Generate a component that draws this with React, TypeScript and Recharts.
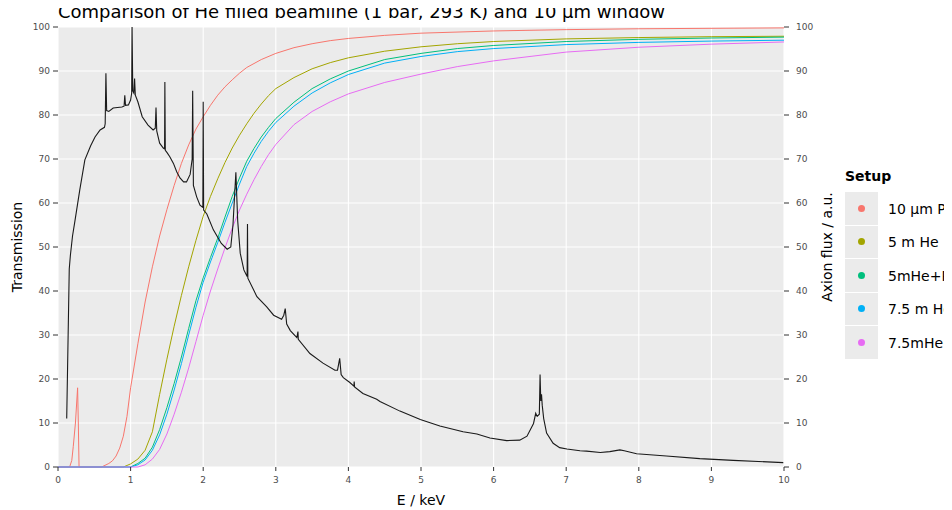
import React from "react";
import { LineChart, Line, XAxis, YAxis, CartesianGrid } from "recharts";

// energies (keV) and transmission (%)
const plE = [0, 0.16, 0.19, 0.21, 0.24, 0.27, 0.28, 0.29, 0.6, 0.7, 0.75, 0.8, 0.85, 0.9, 0.95, 1.0, 1.1, 1.2, 1.3, 1.4, 1.5, 1.6, 1.7, 1.8, 1.9, 2.0, 2.1, 2.2, 2.3, 2.4, 2.5, 2.6, 2.8, 3.0, 3.25, 3.5, 3.75, 4.0, 4.5, 5, 6, 7, 8, 10];
const plT = [0, 0, 1.5, 4.6, 10, 18, 10, 0, 0, 0.8, 1.4, 2.5, 4.3, 7, 11.5, 18, 28, 37.5, 45.5, 52.5, 58.5, 64, 69, 73.2, 76.8, 79.6, 82.2, 84.5, 86.4, 88, 89.5, 90.8, 92.6, 94, 95.3, 96.2, 96.9, 97.4, 98.1, 98.6, 99.1, 99.4, 99.6, 99.8];

const heE = [0, 0.9, 1.0, 1.1, 1.2, 1.3, 1.4, 1.5, 1.6, 1.7, 1.8, 1.9, 2.0, 2.1, 2.2, 2.3, 2.4, 2.5, 2.6, 2.7, 2.8, 2.9, 3.0, 3.25, 3.5, 3.75, 4.0, 4.5, 5, 5.5, 6, 7, 8, 9, 10];
const he5T = [0, 0, 0.7, 1.8, 3.8, 8, 16.5, 24.5, 32, 39, 45.5, 51.5, 57, 61.5, 65.5, 69.2, 72.5, 75.4, 78, 80.4, 82.5, 84.4, 86, 88.5, 90.5, 91.9, 93, 94.5, 95.5, 96.2, 96.7, 97.3, 97.6, 97.8, 97.9];
const he5plT = [0, 0, 0, 0.8, 2, 4.5, 8.5, 13.5, 19, 25, 31.5, 37.8, 43, 47.6, 52, 56.8, 61.5, 65.7, 69.5, 72.4, 75, 77.2, 79.2, 82.9, 86, 88.2, 90, 92.6, 94, 95.1, 95.8, 96.7, 97.2, 97.5, 97.7];
const he75T = [0, 0, 0, 0.5, 1.6, 3.8, 7.3, 12, 17.5, 23.5, 30, 36.3, 42, 46.6, 51, 55.6, 60, 64.3, 68.3, 71.3, 74, 76.3, 78.3, 82, 85, 87.3, 89.2, 91.8, 93.3, 94.4, 95.1, 96, 96.5, 96.8, 97.0];
const he75plT = [0, 0, 0, 0, 0.5, 1.8, 4, 7.5, 12, 17, 22.5, 28.5, 34.5, 40, 45, 49.8, 54.3, 58.4, 62, 65.3, 68.3, 71, 73.3, 77.8, 80.8, 83, 84.8, 87.4, 89.3, 91, 92.3, 94.3, 95.4, 96.1, 96.6];

// axion flux spectrum (a.u.)
const fluxE = [0.12, 0.155, 0.17, 0.2, 0.234, 0.3, 0.37, 0.45, 0.51, 0.58, 0.64, 0.65, 0.66, 0.67, 0.7, 0.76, 0.88, 0.91, 0.92, 0.93, 0.97, 1.0, 1.015, 1.02, 1.03, 1.045, 1.055, 1.065, 1.1, 1.16, 1.24, 1.31, 1.34, 1.35, 1.36, 1.4, 1.45, 1.468, 1.472, 1.478, 1.5, 1.54, 1.59, 1.635, 1.68, 1.73, 1.77, 1.82, 1.848, 1.855, 1.865, 1.91, 1.956, 1.995, 2.0, 2.006, 2.05, 2.14, 2.25, 2.33, 2.38, 2.41, 2.45, 2.475, 2.51, 2.56, 2.605, 2.61, 2.615, 2.74, 2.875, 2.97, 3.08, 3.11, 3.13, 3.15, 3.2, 3.29, 3.305, 3.31, 3.47, 3.65, 3.815, 3.85, 3.88, 3.9, 3.93, 4.02, 4.075, 4.08, 4.085, 4.2, 4.39, 4.435, 4.71, 4.99, 5.26, 5.58, 5.77, 5.95, 6.18, 6.36, 6.46, 6.55, 6.58, 6.6, 6.63, 6.64, 6.65, 6.66, 6.67, 6.69, 6.73, 6.82, 6.91, 7.01, 7.19, 7.28, 7.47, 7.6, 7.74, 7.8, 7.97, 8.38, 8.84, 9.3, 9.99];
const fluxV = [11, 45, 48, 52.5, 56, 63, 69.8, 73, 75, 76.6, 77.2, 78, 89.5, 81, 80.8, 81.6, 81.8, 82, 84.5, 82.2, 82.3, 83.4, 85, 100, 85.5, 85, 88.3, 84.5, 83, 79.6, 77.7, 76.6, 77, 81.7, 76.4, 73.6, 72.5, 72.3, 87.5, 72, 71.5, 70.5, 69, 67.1, 65.7, 64.8, 64.8, 66.5, 70, 85.5, 64, 61.4, 59.5, 59, 83, 58.4, 57.5, 53.9, 50.8, 49.5, 50, 55, 67, 56, 48.6, 44.8, 43.3, 55.2, 42.9, 38.7, 36.4, 34.5, 33.6, 34.5, 36, 32.5, 31, 29.4, 30.8, 29, 25.8, 23.6, 22, 22, 24.7, 21, 20.3, 19.2, 18.4, 19.4, 18.2, 16.7, 15.4, 14.9, 12.7, 10.8, 9.3, 8.0, 7.5, 6.6, 6.0, 6.1, 7.0, 9.9, 12.2, 11.5, 12, 21, 15, 16.5, 14, 11, 7.7, 5.4, 4.4, 4.1, 3.7, 3.6, 3.3, 3.5, 3.9, 3.7, 3.0, 2.5, 1.9, 1.5, 1.0];

const setups = ["10 µm PP", "5 m He", "5mHe+PP", "7.5 m He", "7.5mHe+PP"];
const colors = ["#F8766D", "#A3A500", "#00BF7D", "#00B0F6", "#E76BF3"];

const xTicks = [0, 1, 2, 3, 4, 5, 6, 7, 8, 9, 10];
const yTicks = [0, 10, 20, 30, 40, 50, 60, 70, 80, 90, 100];

const zip = (e: number[], v: number[]) => e.map((x, i) => ({ e: x, v: v[i] }));

const series = [
  zip(plE, plT),
  zip(heE, he5T),
  zip(heE, he5plT),
  zip(heE, he75T),
  zip(heE, he75plT),
];
const flux = zip(fluxE, fluxV);

const font = "DejaVu Sans, sans-serif";
const tickStyle = { fontSize: 9, fill: "#4D4D4D", fontFamily: font };

const App = () => {
  return (
    // negative margin cancels the body margin so the clip box starts at the page top
    <div style={{ position: "relative", marginTop: -8, width: 944, height: 510, overflow: "hidden", fontFamily: font }}>
      <div style={{ position: "absolute", left: 50, top: 1, fontSize: 18, lineHeight: "22px", color: "#000", whiteSpace: "nowrap" }}>
        Comparison of He filled beamline (1 bar, 293 K) and 10 µm window
      </div>
      <div style={{ position: "absolute", left: 0, top: 8 }}>
        <LineChart width={944} height={502} margin={{ top: 19, right: 118, left: 0, bottom: 3 }}>
          <CartesianGrid fill="#EBEBEB" stroke="#FFFFFF" strokeWidth={1.1} horizontalValues={yTicks} verticalValues={xTicks} yAxisId="left" />
          <XAxis
            dataKey="e"
            type="number"
            domain={[0, 10]}
            ticks={xTicks}
            allowDataOverflow
            axisLine={false}
            tickLine={{ stroke: "#333333" }}
            tickSize={4}
            tickMargin={6}
            tick={tickStyle}
            height={40}
            label={{ value: "E / keV", position: "insideBottom", offset: 2, style: { fontSize: 14, fill: "#000", fontFamily: font } }}
          />
          <YAxis
            yAxisId="left"
            domain={[0, 100]}
            ticks={yTicks}
            axisLine={false}
            tickLine={{ stroke: "#333333" }}
            tickSize={5}
            tickMargin={3}
            tick={tickStyle}
            width={50}
            label={{ value: "Transmission", angle: -90, position: "insideLeft", offset: 9, style: { fontSize: 14, fill: "#000", fontFamily: font, textAnchor: "middle" } }}
          />
          <YAxis
            yAxisId="right"
            orientation="right"
            domain={[0, 100]}
            ticks={yTicks}
            axisLine={false}
            tickLine={{ stroke: "#333333" }}
            tickSize={5}
            tickMargin={7}
            tick={tickStyle}
            width={50}
            label={{ value: "Axion flux / a.u.", angle: -90, position: "insideRight", offset: 7, style: { fontSize: 14, fill: "#000", fontFamily: font, textAnchor: "middle" } }}
          />
          {series.map((d, i) => (
            <Line
              key={setups[i]}
              yAxisId="left"
              data={d}
              dataKey="v"
              type="linear"
              stroke={colors[i]}
              strokeWidth={1}
              dot={false}
              activeDot={false}
              isAnimationActive={false}
            />
          ))}
          <Line
            yAxisId="right"
            data={flux}
            dataKey="v"
            type="linear"
            stroke="#1A1A1A"
            strokeWidth={1.1}
            dot={false}
            activeDot={false}
            isAnimationActive={false}
          />
        </LineChart>
      </div>
      <div style={{ position: "absolute", left: 837, top: 168 }}>
        <div style={{ fontSize: 14, fontWeight: "bold", marginBottom: 8 }}>Setup</div>
        {setups.map((s, i) => (
          <div key={s} style={{ display: "flex", alignItems: "center", height: 33.5 }}>
            <div style={{ width: 33, height: 32.5, background: "#EBEBEB", borderBottom: "1px solid #fff", display: "flex", alignItems: "center", justifyContent: "center" }}>
              <div style={{ width: 7, height: 7, borderRadius: "50%", background: colors[i] }} />
            </div>
            <div style={{ marginLeft: 10, fontSize: 14, whiteSpace: "nowrap" }}>{s}</div>
          </div>
        ))}
      </div>
    </div>
  );
};

export default App;
